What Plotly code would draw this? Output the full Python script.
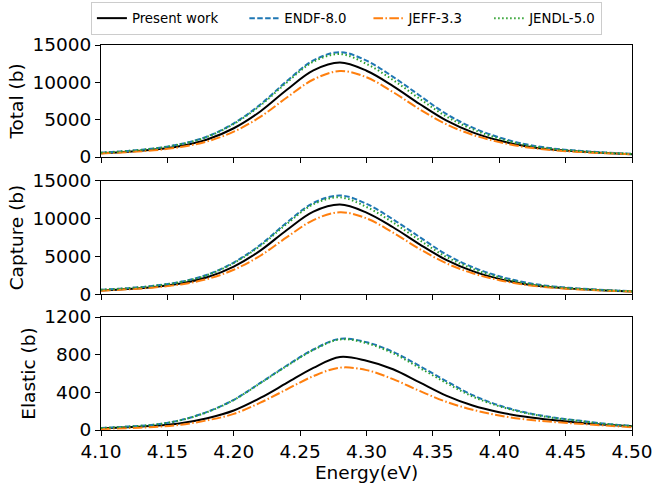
import plotly.graph_objects as go
from plotly.subplots import make_subplots

energy = [4.10, 4.12, 4.14, 4.16, 4.18, 4.20, 4.22, 4.24, 4.26, 4.28, 4.30,
          4.32, 4.34, 4.36, 4.38, 4.40, 4.42, 4.44, 4.46, 4.48, 4.50]

# Total cross section (b)
total_present = [500, 700, 990, 1480, 2350, 3850, 6100, 9000, 11600, 12650, 11550,
                 9500, 7100, 4900, 3300, 2200, 1450, 1000, 730, 530, 380]
total_endf = [580, 810, 1150, 1730, 2750, 4500, 7020, 10170, 12930, 14040, 12900,
              10740, 8240, 5780, 3930, 2620, 1700, 1150, 830, 600, 430]
total_jeff = [460, 645, 900, 1330, 2090, 3390, 5370, 7970, 10380, 11510, 10680,
              8690, 6390, 4390, 2970, 1990, 1320, 920, 680, 500, 370]
total_jendl = [575, 805, 1140, 1700, 2700, 4430, 6890, 9990, 12760, 13790, 12470,
               10310, 7810, 5440, 3700, 2460, 1600, 1090, 790, 570, 410]

# Capture cross section (b)
capture_present = [482, 671, 946, 1408, 2225, 3643, 5760, 8500, 10940, 11875, 10810,
                   8860, 6600, 4535, 3040, 2011, 1310, 895, 652, 473, 341]
capture_endf = [559, 774, 1093, 1625, 2555, 4179, 6520, 9490, 12080, 13072, 11968,
                9910, 7560, 5260, 3560, 2359, 1515, 1015, 730, 534, 387]
capture_jeff = [449, 625, 868, 1274, 1985, 3219, 5080, 7540, 9810, 10848, 10044,
                8150, 5975, 4090, 2755, 1836, 1208, 834, 614, 453, 341]
capture_jendl = [554, 769, 1084, 1596, 2507, 4112, 6393, 9314, 11915, 12828, 11548,
                 9495, 7150, 4940, 3345, 2208, 1420, 960, 693, 506, 368]

# Elastic cross section (b)
elastic_present = [18, 29, 44, 72, 125, 207, 340, 500, 660, 775, 735,
                   645, 505, 365, 260, 189, 140, 105, 78, 57, 39]
elastic_endf = [21, 36, 57, 105, 192, 321, 500, 685, 855, 968, 932,
                830, 680, 520, 370, 261, 185, 135, 100, 66, 43]
elastic_jeff = [11, 20, 32, 56, 103, 171, 290, 432, 572, 662, 636,
                540, 415, 300, 215, 154, 112, 86, 66, 47, 29]
elastic_jendl = [21, 36, 56, 104, 190, 318, 497, 680, 850, 962, 922,
                 815, 660, 500, 355, 252, 180, 130, 97, 64, 42]

series_names = ["Present work", "ENDF-8.0", "JEFF-3.3", "JENDL-5.0"]
panel_labels = ["Total (b)", "Capture (b)", "Elastic (b)"]
x_ticks = [4.10, 4.15, 4.20, 4.25, 4.30, 4.35, 4.40, 4.45, 4.50]
y_ticks_total = [0, 5000, 10000, 15000]
y_ticks_capture = [0, 5000, 10000, 15000]
y_ticks_elastic = [0, 400, 800, 1200]

panels = [
    [total_present, total_endf, total_jeff, total_jendl],
    [capture_present, capture_endf, capture_jeff, capture_jendl],
    [elastic_present, elastic_endf, elastic_jeff, elastic_jendl],
]
y_ranges = [[0, 15000], [0, 15000], [0, 1200]]
y_ticks = [y_ticks_total, y_ticks_capture, y_ticks_elastic]

styles = [
    dict(color="black", width=2, dash="solid"),
    dict(color="#1f77b4", width=2, dash="5.5px,2.4px"),
    dict(color="#ff7f0e", width=2, dash="9.6px,2.4px,1.5px,2.4px"),
    dict(color="#2ca02c", width=2, dash="1.5px,2.5px"),
]
legend_pad = ["\u00a0" * 5, "\u00a0" * 4, "\u00a0" * 5, ""]

fig = make_subplots(rows=3, cols=1, shared_xaxes=False, vertical_spacing=0.06)

for r, data in enumerate(panels, start=1):
    for i, ys in enumerate(data):
        fig.add_trace(go.Scatter(
            x=energy, y=ys, mode="lines", name=series_names[i] + legend_pad[i],
            line=dict(shape="spline", smoothing=1.0, **styles[i]),
            showlegend=(r == 1),
        ), row=r, col=1)

domains = [[0.7091, 1.0], [0.3532, 0.6468], [0.0, 0.2935]]
font_family = "DejaVu Sans, sans-serif"
fs = 18.5
for r in range(1, 4):
    fig.update_xaxes(
        row=r, col=1, range=[4.1, 4.5], tickvals=x_ticks, tickformat=".2f",
        showticklabels=(r == 3), ticks="outside", ticklen=5, tickwidth=1,
        tickcolor="black", showline=True, linecolor="black", linewidth=1,
        mirror=True, showgrid=False, zeroline=False,
        tickfont=dict(size=fs, color="black", family=font_family),
        title=dict(text="Energy(eV)" if r == 3 else "",
                   font=dict(size=fs, color="black", family=font_family), standoff=2),
    )
    fig.update_yaxes(
        row=r, col=1, range=y_ranges[r - 1], tickvals=y_ticks[r - 1], tickformat="d",
        domain=domains[r - 1],
        ticks="outside", ticklen=5, tickwidth=1, tickcolor="black",
        showline=True, linecolor="black", linewidth=1, mirror=True,
        showgrid=False, zeroline=False,
        tickfont=dict(size=fs, color="black", family=font_family),
        title=dict(text=panel_labels[r - 1],
                   font=dict(size=fs, color="black", family=font_family), standoff=3),
    )

fig.update_layout(
    width=653, height=486,
    margin=dict(l=101, r=21, t=45, b=56, autoexpand=False),
    paper_bgcolor="white", plot_bgcolor="white",
    font=dict(family=font_family, color="black"),
    legend=dict(
        orientation="h", x=-0.019, xanchor="left", y=1.1117, yanchor="top",
        bordercolor="#cccccc", borderwidth=1, bgcolor="white",
        font=dict(size=13.3, color="black", family=font_family),
        itemwidth=30, tracegroupgap=0,
    ),
)

fig.write_html("out.html")
